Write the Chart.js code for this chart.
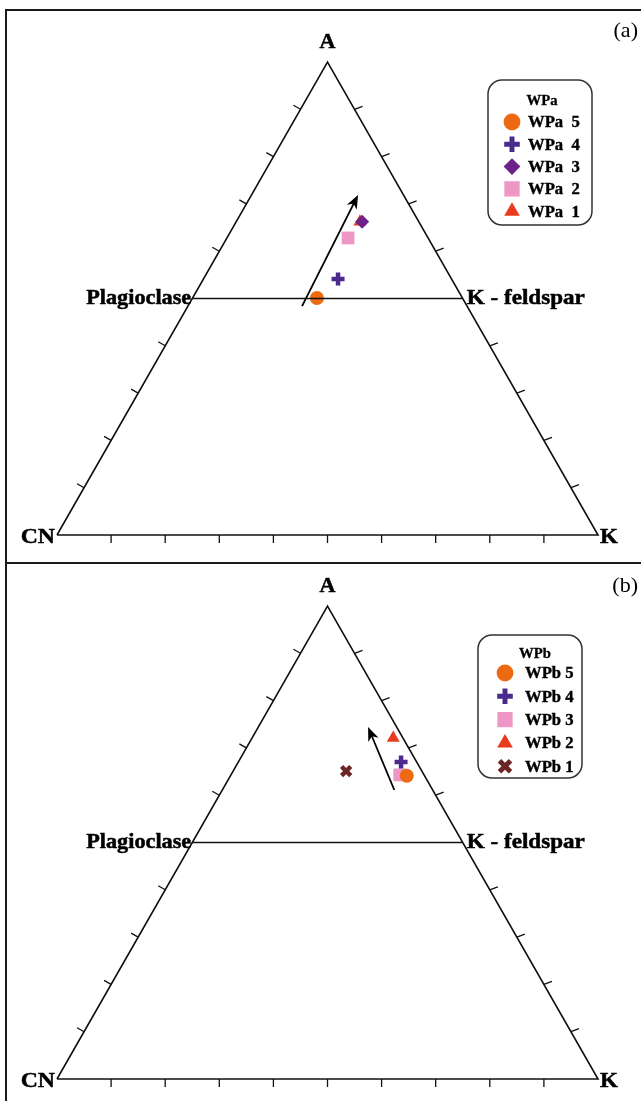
<!DOCTYPE html>
<html>
<head>
<meta charset="utf-8">
<script src="https://cdn.jsdelivr.net/npm/chart.js@4.4.1/dist/chart.umd.min.js"></script>
<style>
  body { margin: 0; background: #fff; overflow: hidden; }
  #wrap { position: relative; width: 641px; height: 1101px; overflow: hidden; }
  .frame { position: absolute; border: 2px solid #1a1a1a; box-sizing: border-box; }
  canvas { position: absolute; left: 0; }
</style>
</head>
<body>
<div id="wrap">
  <div class="frame" style="left:5px;top:9px;width:700px;height:555px;"></div>
  <div class="frame" style="left:5px;top:562px;width:700px;height:600px;"></div>
  <canvas id="chartA" width="641" height="562" style="top:0"></canvas>
  <canvas id="chartB" width="641" height="539" style="top:562px"></canvas>
</div>
<script>
// Ternary compositions (fractions of A, CN, K)
const wpaNames = ["WPa  5", "WPa  4", "WPa  3", "WPa  2", "WPa  1"];
const wpaA  = [0.501, 0.541, 0.662, 0.628, 0.662];
const wpaCN = [0.269, 0.210, 0.105, 0.148, 0.109];
const wpaK  = [0.230, 0.249, 0.233, 0.224, 0.229];

const wpbNames = ["WPb 5", "WPb 4", "WPb 3", "WPb 2", "WPb 1"];
const wpbA  = [0.641, 0.670, 0.643, 0.721, 0.651];
const wpbCN = [0.033, 0.029, 0.045, 0.018, 0.140];
const wpbK  = [0.326, 0.301, 0.312, 0.261, 0.209];

// trend arrows: [start, end]
const wpaArrowA = [0.484, 0.719];
const wpaArrowK = [0.211, 0.197];
const wpbArrowA = [0.611, 0.744];
const wpbArrowK = [0.318, 0.203];

// tick fractions along each side
const tickFractions = [0.1, 0.2, 0.3, 0.4, 0.5, 0.6, 0.7, 0.8, 0.9];

const SERIF = '"Liberation Serif", "DejaVu Serif", serif';

const stylesA = [
    { pointStyle: "circle",   color: "#ee6a12", radius: 7,   borderWidth: 0 },
    { pointStyle: "cross",    color: "#4b2a8e", radius: 6.5, borderWidth: 4.5 },
    { pointStyle: "rectRot",  color: "#6e2289", radius: 7,   borderWidth: 0 },
    { pointStyle: "rect",     color: "#ee96c4", radius: 9,   borderWidth: 0 },
    { pointStyle: "triangle", color: "#e83a1c", radius: 7.5, borderWidth: 0 },
];
const stylesB = [
    { pointStyle: "circle",   color: "#ee6a12", radius: 7,   borderWidth: 0 },
    { pointStyle: "cross",    color: "#4b2a8e", radius: 6.5, borderWidth: 4.5 },
    { pointStyle: "rect",     color: "#ee96c4", radius: 9,   borderWidth: 0 },
    { pointStyle: "triangle", color: "#e83a1c", radius: 7.5, borderWidth: 0 },
    { pointStyle: "crossRot", color: "#6b2525", radius: 6.5, borderWidth: 4.5 },
];

// ternary -> cartesian (base CN..K = 0..1, height A = 0..1)
function tern(a, cn, k) {
    const s = a + cn + k;
    return { x: (k + a / 2) / s, y: a / s };
}

// text with horizontal stretch and a thin outline to thicken the glyphs
function strText(ctx, text, x, y, align, sx, heavy) {
    ctx.save();
    ctx.translate(x, y);
    ctx.scale(sx, 1);
    ctx.textAlign = align;
    ctx.fillText(text, 0, 0);
    if (heavy) {
        ctx.lineWidth = heavy;
        ctx.strokeStyle = ctx.fillStyle;
        ctx.strokeText(text, 0, 0);
    }
    ctx.restore();
}

// axis frame, ticks, labels, arrow and boxed legend
const ternaryDecor = {
    id: "ternaryDecor",
    afterDatasetsDraw(chart, args, opts) {
        const ctx = chart.ctx;
        const sx = chart.scales.x, sy = chart.scales.y;
        const px = (p) => ({ x: sx.getPixelForValue(p.x), y: sy.getPixelForValue(p.y) });
        ctx.save();
        ctx.strokeStyle = "#111";
        ctx.lineWidth = 1.3;

        // ticks
        tickFractions.forEach((f) => {
            const l = px(tern(f, 1 - f, 0));
            const r = px(tern(f, 0, 1 - f));
            const b = px(tern(0, 1 - f, f));
            ctx.beginPath();
            if (f !== 0.5) {
                ctx.moveTo(l.x, l.y); ctx.lineTo(l.x - 7, l.y - 4);
                ctx.moveTo(r.x, r.y); ctx.lineTo(r.x + 8, r.y - 3);
            }
            ctx.moveTo(b.x, b.y); ctx.lineTo(b.x, b.y + 8);
            ctx.stroke();
        });

        // arrow
        const p0 = px(tern(opts.arrowA[0], 1 - opts.arrowA[0] - opts.arrowK[0], opts.arrowK[0]));
        const p1 = px(tern(opts.arrowA[1], 1 - opts.arrowA[1] - opts.arrowK[1], opts.arrowK[1]));
        const ang = Math.atan2(p1.y - p0.y, p1.x - p0.x);
        ctx.lineWidth = 1.8;
        ctx.strokeStyle = "#000";
        ctx.beginPath();
        ctx.moveTo(p0.x, p0.y);
        ctx.lineTo(p1.x - Math.cos(ang) * 8, p1.y - Math.sin(ang) * 8);
        ctx.stroke();
        ctx.fillStyle = "#000";
        ctx.beginPath();
        ctx.moveTo(p1.x, p1.y);
        ctx.lineTo(p1.x - Math.cos(ang - 0.38) * 15, p1.y - Math.sin(ang - 0.38) * 15);
        ctx.lineTo(p1.x - Math.cos(ang) * 10, p1.y - Math.sin(ang) * 10);
        ctx.lineTo(p1.x - Math.cos(ang + 0.38) * 15, p1.y - Math.sin(ang + 0.38) * 15);
        ctx.closePath();
        ctx.fill();

        // corner and line labels
        const vA = px(tern(1, 0, 0)), vCN = px(tern(0, 1, 0)), vK = px(tern(0, 0, 1));
        const pl = px(tern(0.5, 0.5, 0)), kf = px(tern(0.5, 0, 0.5));
        ctx.fillStyle = "#000";
        ctx.textBaseline = "middle";
        ctx.font = "bold 22px " + SERIF;
        strText(ctx, "A", vA.x, vA.y - 20, "center", 1.0, 0.5);
        strText(ctx, "CN", vCN.x - 2, vCN.y + 2, "right", 1.08, 0.5);
        strText(ctx, "K", vK.x + 2, vK.y + 2, "left", 1.05, 0.5);
        ctx.font = "bold 21px " + SERIF;
        strText(ctx, "Plagioclase", pl.x - 1, pl.y, "right", 1.06, 0.5);
        strText(ctx, "K - feldspar", kf.x + 4, kf.y, "left", 1.1, 0.5);
        ctx.font = "21px " + SERIF;
        strText(ctx, opts.tag, 638, opts.tagY, "right", 1.05, 0);

        // legend box
        const L = opts.legend;
        ctx.lineWidth = 1.5;
        ctx.strokeStyle = "#333";
        ctx.beginPath();
        ctx.roundRect(L.x, L.y, L.w, L.h, 14);
        ctx.stroke();
        ctx.font = "bold 14px " + SERIF;
        strText(ctx, L.title, L.titleX, L.titleY, "center", 1.05, 0.3);
        ctx.font = "bold 17px " + SERIF;
        chart.data.datasets.filter((d) => d.sample).forEach((ds, i) => {
            const y = L.rowY + i * L.rowGap;
            ctx.fillStyle = ds.backgroundColor;
            ctx.strokeStyle = ds.borderColor;
            ctx.lineWidth = ds.borderWidth * 1.1;
            Chart.helpers.drawPoint(ctx, {
                pointStyle: ds.pointStyle,
                radius: ds.pointRadius * 1.2,
                borderWidth: ds.borderWidth * 1.1,
                rotation: 0,
            }, L.markX, y);
            ctx.fillStyle = "#000";
            strText(ctx, ds.label, L.textX, y + 1, "left", 0.98, 0.4);
        });
        ctx.restore();
    },
};

function buildChart(canvasId, names, A, CN, K, styles, baseY, apexY, decor) {
    const canvas = document.getElementById(canvasId);
    const H = canvas.height;
    const span = baseY - apexY;
    const samples = names.map((name, i) => {
        const st = styles[i];
        return {
            label: name,
            sample: true,
            data: [tern(A[i], CN[i], K[i])],
            pointStyle: st.pointStyle,
            pointRadius: st.radius,
            backgroundColor: st.color,
            borderColor: st.color,
            borderWidth: st.borderWidth,
            showLine: false,
            clip: false,
        };
    });
    const frame = {
        label: "frame",
        data: [tern(0, 1, 0), tern(0, 0, 1), tern(1, 0, 0), tern(0, 1, 0)],
        showLine: true,
        borderColor: "#111",
        borderWidth: 1.6,
        pointRadius: 0,
        clip: false,
    };
    const feldsparLine = {
        label: "feldspar",
        data: [tern(0.5, 0.5, 0), tern(0.5, 0, 0.5)],
        showLine: true,
        borderColor: "#111",
        borderWidth: 1.6,
        pointRadius: 0,
        clip: false,
    };
    return new Chart(canvas.getContext("2d"), {
        type: "scatter",
        data: { datasets: [frame, feldsparLine, ...samples] },
        options: {
            responsive: false,
            animation: false,
            events: [],
            layout: { padding: 0, autoPadding: false },
            scales: {
                x: { type: "linear", display: false, min: -57 / 541, max: (641 - 57) / 541 },
                y: { type: "linear", display: false, min: (baseY - H) / span, max: baseY / span },
            },
            plugins: {
                legend: { display: false },
                tooltip: { enabled: false },
                ternaryDecor: decor,
            },
        },
        plugins: [ternaryDecor],
    });
}

buildChart("chartA", wpaNames, wpaA, wpaCN, wpaK, stylesA, 535, 62, {
    arrowA: wpaArrowA, arrowK: wpaArrowK, tag: "(a)", tagY: 31,
    legend: { x: 488, y: 80, w: 104, h: 145, title: "WPa", titleX: 542, titleY: 101,
              rowY: 122, rowGap: 22.3, markX: 512, textX: 528 },
});

buildChart("chartB", wpbNames, wpbA, wpbCN, wpbK, stylesB, 517, 44, {
    arrowA: wpbArrowA, arrowK: wpbArrowK, tag: "(b)", tagY: 24,
    legend: { x: 478, y: 73, w: 104, h: 143, title: "WPb", titleX: 535, titleY: 92,
              rowY: 111, rowGap: 23.3, markX: 505, textX: 525 },
});
</script>
</body>
</html>
